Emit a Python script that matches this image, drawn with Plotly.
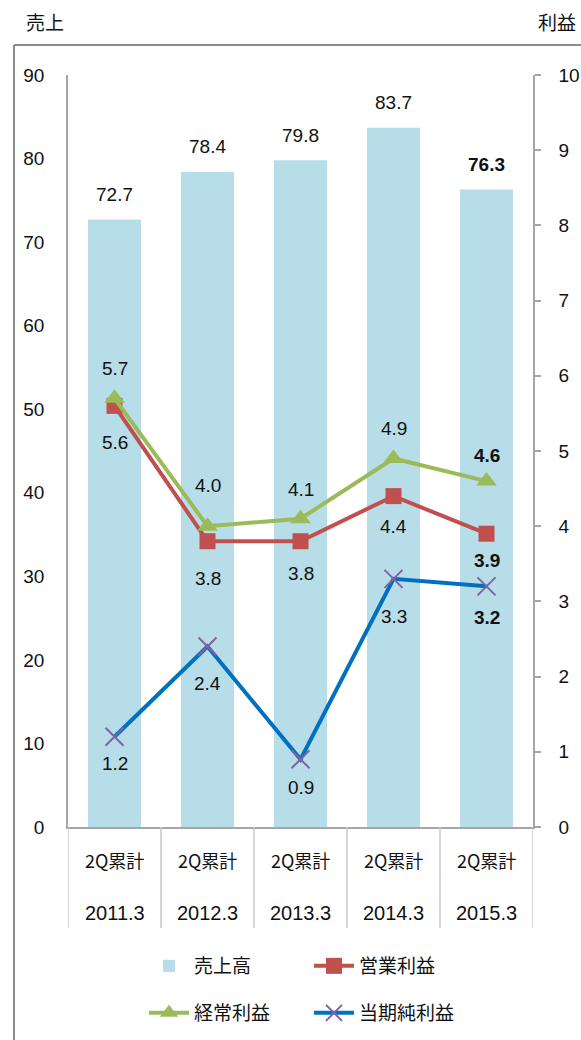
import plotly.graph_objects as go

# ---- data ----
periods = ["2011.3", "2012.3", "2013.3", "2014.3", "2015.3"]
period_prefix = ["2Q累計", "2Q累計", "2Q累計", "2Q累計", "2Q累計"]
sales = [72.7, 78.4, 79.8, 83.7, 76.3]          # 売上高 (left axis)
operating = [5.6, 3.8, 3.8, 4.4, 3.9]           # 営業利益 (right axis)
ordinary = [5.7, 4.0, 4.1, 4.9, 4.6]            # 経常利益 (right axis)
net = [1.2, 2.4, 0.9, 3.3, 3.2]                 # 当期純利益 (right axis)
left_ticks = list(range(0, 91, 10))
right_ticks = list(range(0, 11))

# ---- style / layout constants ----
W, H = 581, 1040
L, R, T, B = 68, 533, 75, 827
NUM_FONT = "Liberation Sans Narrow, Liberation Sans, Arial, sans-serif"
JP_FONT = "Noto Sans CJK JP, Noto Sans, sans-serif"
TXT = "#111111"
AXIS_GRAY = "#A6A6A6"
FRAME_GRAY = "#8C8C8C"
NUM_SIZE = 19

# label offsets (px, + above / - below)
bar_off = [25, 25, 25, 25, 25]
ord_off = [30, 41, 29, 30, 26]
op_off = [-37, -37, -32, -30, -27]
net_off = [-27, -37, -28, -38, -31]


def px(xp):
    return (xp - L) / (R - L)


def py(yp):
    return (B - yp) / (B - T)


fig = go.Figure()

fig.add_trace(go.Bar(
    x=periods, y=sales, name="売上高", width=0.57,
    marker=dict(color="#B7DDE8", line=dict(width=0)),
    legend="legend", hoverinfo="skip",
))
fig.add_trace(go.Scatter(
    x=periods, y=operating, name="営業利益", yaxis="y2",
    mode="lines+markers",
    line=dict(color="#C0504D", width=4),
    marker=dict(symbol="square", size=16, color="#C0504D"),
    legend="legend",
))
fig.add_trace(go.Scatter(
    x=periods, y=ordinary, name="経常利益", yaxis="y2",
    mode="lines+markers",
    line=dict(color="#9BBB59", width=4),
    marker=dict(symbol="triangle-up", size=18, color="#9BBB59"),
    legend="legend2",
))
fig.add_trace(go.Scatter(
    x=periods, y=net, name="当期純利益", yaxis="y2",
    mode="lines+markers",
    line=dict(color="#0070C0", width=4),
    marker=dict(symbol="x-thin", size=18, color="#8064A2",
                line=dict(color="#8064A2", width=2)),
    legend="legend2",
))

annotations = []


def lab(i, v, yref, off):
    t = f"{v:.1f}"
    if i == len(periods) - 1:
        t = f"<b>{t}</b>"
    annotations.append(dict(
        x=i, y=v, xref="x", yref=yref, text=t, showarrow=False,
        yshift=off, xanchor="center", yanchor="middle",
        font=dict(family=NUM_FONT, size=NUM_SIZE, color=TXT),
    ))


for i, v in enumerate(sales):
    lab(i, v, "y", bar_off[i])
for i, v in enumerate(ordinary):
    lab(i, v, "y2", ord_off[i])
for i, v in enumerate(operating):
    lab(i, v, "y2", op_off[i])
for i, v in enumerate(net):
    lab(i, v, "y2", net_off[i])

# category labels
for i, (p, q) in enumerate(zip(period_prefix, periods)):
    annotations.append(dict(
        x=i, y=py(860), xref="x", yref="paper", text=p, showarrow=False,
        xanchor="center", yanchor="middle",
        font=dict(family=JP_FONT, size=18, color=TXT)))
    annotations.append(dict(
        x=i, y=py(913), xref="x", yref="paper", text=q, showarrow=False,
        xanchor="center", yanchor="middle",
        font=dict(family=NUM_FONT, size=20, color=TXT)))

# axis titles
annotations.append(dict(x=px(45), y=py(22), xref="paper", yref="paper",
                        text="売上", showarrow=False, xanchor="center", yanchor="middle",
                        font=dict(family=JP_FONT, size=19, color=TXT)))
annotations.append(dict(x=px(557), y=py(22), xref="paper", yref="paper",
                        text="利益", showarrow=False, xanchor="center", yanchor="middle",
                        font=dict(family=JP_FONT, size=19, color=TXT)))

shapes = []
# category dividers below the axis
for k in range(len(periods) + 1):
    shapes.append(dict(type="line", xref="x", yref="paper",
                       x0=k - 0.5, x1=k - 0.5, y0=0, y1=py(928),
                       line=dict(color="#C8C8C8", width=1.5)))
# outer frame (top and left edges visible)
shapes.append(dict(type="line", xref="paper", yref="paper",
                   x0=px(14), x1=px(600), y0=py(45), y1=py(45),
                   line=dict(color=FRAME_GRAY, width=2)))
shapes.append(dict(type="line", xref="paper", yref="paper",
                   x0=px(14), x1=px(14), y0=py(45), y1=py(1060),
                   line=dict(color=FRAME_GRAY, width=2)))

fig.update_layout(
    template="none",
    width=W, height=H,
    margin=dict(l=L, r=W - R, t=T, b=H - B, pad=0, autoexpand=False),
    paper_bgcolor="white", plot_bgcolor="white",
    showlegend=True,
    xaxis=dict(type="category", range=[-0.5, 4.5], showticklabels=False,
               showline=True, linecolor=AXIS_GRAY, linewidth=1.5,
               ticks="", showgrid=False, zeroline=False, automargin=False),
    yaxis=dict(range=[0, 90], tickvals=left_ticks, showline=True,
               linecolor=AXIS_GRAY, linewidth=1.5, ticks="",
               showgrid=False, zeroline=False, ticklabelstandoff=18,
               automargin=False,
               tickfont=dict(family=NUM_FONT, size=NUM_SIZE, color=TXT)),
    yaxis2=dict(range=[0, 10], tickvals=right_ticks, overlaying="y",
                side="right", showline=True, linecolor=AXIS_GRAY,
                linewidth=1.5, ticks="outside", ticklen=6,
                tickcolor=AXIS_GRAY, tickwidth=1.5, automargin=False,
                showgrid=False, zeroline=False, ticklabelstandoff=14,
                tickfont=dict(family=NUM_FONT, size=NUM_SIZE, color=TXT)),
    legend=dict(orientation="h", x=px(144), y=py(947), xanchor="left",
                yanchor="top", entrywidth=110, entrywidthmode="pixels",
                font=dict(family=JP_FONT, size=19, color=TXT),
                bgcolor="rgba(0,0,0,0)", itemwidth=40),
    legend2=dict(orientation="h", x=px(144), y=py(994), xanchor="left",
                 yanchor="top", entrywidth=110, entrywidthmode="pixels",
                 font=dict(family=JP_FONT, size=19, color=TXT),
                 bgcolor="rgba(0,0,0,0)", itemwidth=40),
    annotations=annotations,
    shapes=shapes,
    bargap=0.43,
)

fig.write_html("out.html")
